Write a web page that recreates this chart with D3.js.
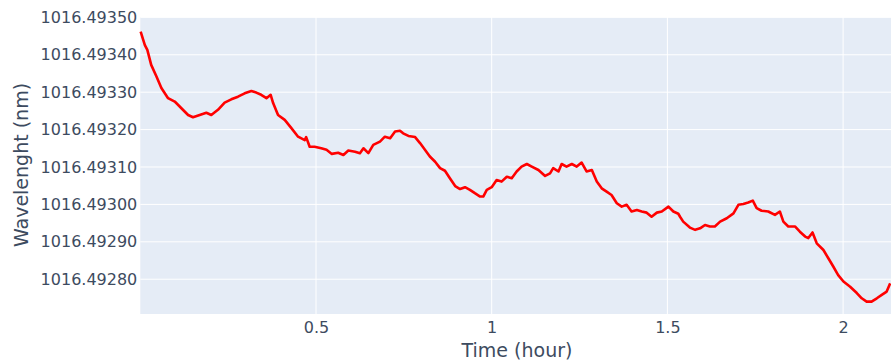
<!DOCTYPE html>
<html>
<head>
<meta charset="utf-8">
<script src="https://cdn.jsdelivr.net/npm/d3@7"></script>
<style>
  html, body { margin: 0; padding: 0; background: #ffffff; }
  svg { display: block; }
  text { font-family: "DejaVu Sans", Verdana, Arial, sans-serif; }
</style>
</head>
<body>
<svg id="chart" width="891" height="362"></svg>
<script>
// Elapsed time (hours)
const timeHours = [
  0.001, 0.013, 0.020, 0.031, 0.046, 0.060, 0.079, 0.098, 0.117, 0.136,
  0.150, 0.169, 0.188, 0.202, 0.221, 0.240, 0.259, 0.278, 0.297, 0.316,
  0.330, 0.344, 0.359, 0.371, 0.378, 0.392, 0.411, 0.430, 0.449, 0.468,
  0.472, 0.482, 0.496, 0.515, 0.530, 0.545, 0.563, 0.578, 0.592, 0.611,
  0.625, 0.635, 0.649, 0.663, 0.682, 0.696, 0.711, 0.725, 0.739, 0.748,
  0.763, 0.782, 0.796, 0.810, 0.824, 0.839, 0.853, 0.867, 0.881, 0.896,
  0.910, 0.924, 0.938, 0.952, 0.967, 0.976, 0.986, 1.000, 1.014, 1.028,
  1.043, 1.057, 1.071, 1.085, 1.100, 1.114, 1.133, 1.152, 1.166, 1.175,
  1.190, 1.199, 1.213, 1.228, 1.242, 1.256, 1.270, 1.285, 1.299, 1.313,
  1.327, 1.341, 1.356, 1.370, 1.384, 1.398, 1.413, 1.427, 1.441, 1.455,
  1.470, 1.484, 1.503, 1.517, 1.531, 1.536, 1.545, 1.564, 1.579, 1.593,
  1.607, 1.621, 1.635, 1.650, 1.669, 1.688, 1.702, 1.716, 1.730, 1.743,
  1.754, 1.768, 1.787, 1.806, 1.820, 1.830, 1.844, 1.863, 1.877, 1.892,
  1.901, 1.913, 1.925, 1.944, 1.958, 1.972, 1.986, 2.001, 2.020, 2.039,
  2.053, 2.067, 2.081, 2.096, 2.110, 2.124, 2.134
];

// Measured wavelength (nm)
const wavelengthNm = [
  1016.493462, 1016.493426, 1016.493413, 1016.493373, 1016.493342, 1016.493311, 1016.493284, 1016.493275, 1016.493257, 1016.493239,
  1016.493233, 1016.493239, 1016.493245, 1016.493239, 1016.493253, 1016.493272, 1016.493281, 1016.493288, 1016.493297, 1016.493303,
  1016.493299, 1016.493293, 1016.493284, 1016.493293, 1016.493271, 1016.493239, 1016.493226, 1016.493204, 1016.493181, 1016.493172,
  1016.493180, 1016.493154, 1016.493154, 1016.493150, 1016.493146, 1016.493135, 1016.493138, 1016.493132, 1016.493144, 1016.493141,
  1016.493137, 1016.493150, 1016.493137, 1016.493159, 1016.493168, 1016.493181, 1016.493177, 1016.493195, 1016.493197, 1016.493190,
  1016.493183, 1016.493180, 1016.493164, 1016.493146, 1016.493128, 1016.493114, 1016.493097, 1016.493090, 1016.493070, 1016.493049,
  1016.493041, 1016.493046, 1016.493039, 1016.493030, 1016.493021, 1016.493021, 1016.493039, 1016.493046, 1016.493065, 1016.493061,
  1016.493074, 1016.493070, 1016.493088, 1016.493101, 1016.493108, 1016.493101, 1016.493092, 1016.493076, 1016.493083, 1016.493097,
  1016.493088, 1016.493108, 1016.493101, 1016.493108, 1016.493101, 1016.493112, 1016.493088, 1016.493092, 1016.493061, 1016.493043,
  1016.493034, 1016.493025, 1016.493003, 1016.492994, 1016.492999, 1016.492981, 1016.492985, 1016.492981, 1016.492978, 1016.492967,
  1016.492978, 1016.492981, 1016.492994, 1016.492981, 1016.492975, 1016.492967, 1016.492954, 1016.492938, 1016.492932, 1016.492936,
  1016.492945, 1016.492941, 1016.492941, 1016.492954, 1016.492963, 1016.492976, 1016.492999, 1016.493001, 1016.493005, 1016.493010,
  1016.492990, 1016.492983, 1016.492981, 1016.492972, 1016.492981, 1016.492954, 1016.492941, 1016.492941, 1016.492927, 1016.492914,
  1016.492910, 1016.492925, 1016.492896, 1016.492878, 1016.492856, 1016.492834, 1016.492811, 1016.492794, 1016.492780, 1016.492763,
  1016.492749, 1016.492740, 1016.492740, 1016.492749, 1016.492758, 1016.492767, 1016.492789
];

const xTickValues = [0.5, 1, 1.5, 2];
const xTickLabels = ["0.5", "1", "1.5", "2"];
const yTickValues = [1016.4928, 1016.4929, 1016.4930, 1016.4931, 1016.4932, 1016.4933, 1016.4934, 1016.4935];
const yTickLabels = ["1016.49280", "1016.49290", "1016.49300", "1016.49310", "1016.49320", "1016.49330", "1016.49340", "1016.49350"];

const xTitle = "Time (hour)";
const yTitle = "Wavelenght (nm)";

const plot = { left: 140.3, right: 891, top: 17, bottom: 314 };
const textColor = "#3d4b60";

const svg = d3.select("#chart");

const x = d3.scaleLinear()
  .domain([0, (plot.right - plot.left) / 351.4])
  .range([plot.left, plot.right]);
const y = d3.scaleLinear()
  .domain([1016.492707, 1016.493501])
  .range([plot.bottom, plot.top]);

// plot background
svg.append("rect")
  .attr("x", plot.left).attr("y", plot.top)
  .attr("width", plot.right - plot.left)
  .attr("height", plot.bottom - plot.top)
  .attr("fill", "#e5ecf6");

// gridlines
const grid = svg.append("g").attr("stroke", "#ffffff").attr("stroke-width", 1);
grid.selectAll("line.gx").data(xTickValues).join("line")
  .attr("class", "gx")
  .attr("x1", d => x(d)).attr("x2", d => x(d))
  .attr("y1", plot.top).attr("y2", plot.bottom);
grid.selectAll("line.gy").data(yTickValues).join("line")
  .attr("class", "gy")
  .attr("x1", plot.left).attr("x2", plot.right)
  .attr("y1", d => y(d)).attr("y2", d => y(d));

// axes (labels only, no domain lines or tick marks)
const xAxis = d3.axisBottom(x)
  .tickValues(xTickValues)
  .tickFormat((d, i) => xTickLabels[i])
  .tickSize(0).tickPadding(8);
const yAxis = d3.axisLeft(y)
  .tickValues(yTickValues)
  .tickFormat((d, i) => yTickLabels[i])
  .tickSize(0).tickPadding(3);

const gx = svg.append("g").attr("transform", `translate(0,${plot.bottom})`).call(xAxis);
const gy = svg.append("g").attr("transform", `translate(${plot.left},0)`).call(yAxis);
[gx, gy].forEach(g => {
  g.select(".domain").remove();
  g.selectAll("text")
    .attr("fill", textColor)
    .style("font-size", "16px")
    .style("font-family", "'DejaVu Sans', Verdana, Arial, sans-serif");
});

// data line
const pts = timeHours.map((t, i) => [t, wavelengthNm[i]]);
const line = d3.line().x(d => x(d[0])).y(d => y(d[1]));
svg.append("path")
  .datum(pts)
  .attr("d", line)
  .attr("fill", "none")
  .attr("stroke", "#ff0000")
  .attr("stroke-width", 2.6)
  .attr("stroke-linejoin", "round");

// axis titles
svg.append("text")
  .attr("x", 517).attr("y", 357)
  .attr("text-anchor", "middle")
  .attr("fill", textColor)
  .style("font-size", "19px")
  .text(xTitle);
svg.append("text")
  .attr("transform", `translate(28,165) rotate(-90)`)
  .attr("text-anchor", "middle")
  .attr("fill", textColor)
  .style("font-size", "19px")
  .text(yTitle);
</script>
</body>
</html>
